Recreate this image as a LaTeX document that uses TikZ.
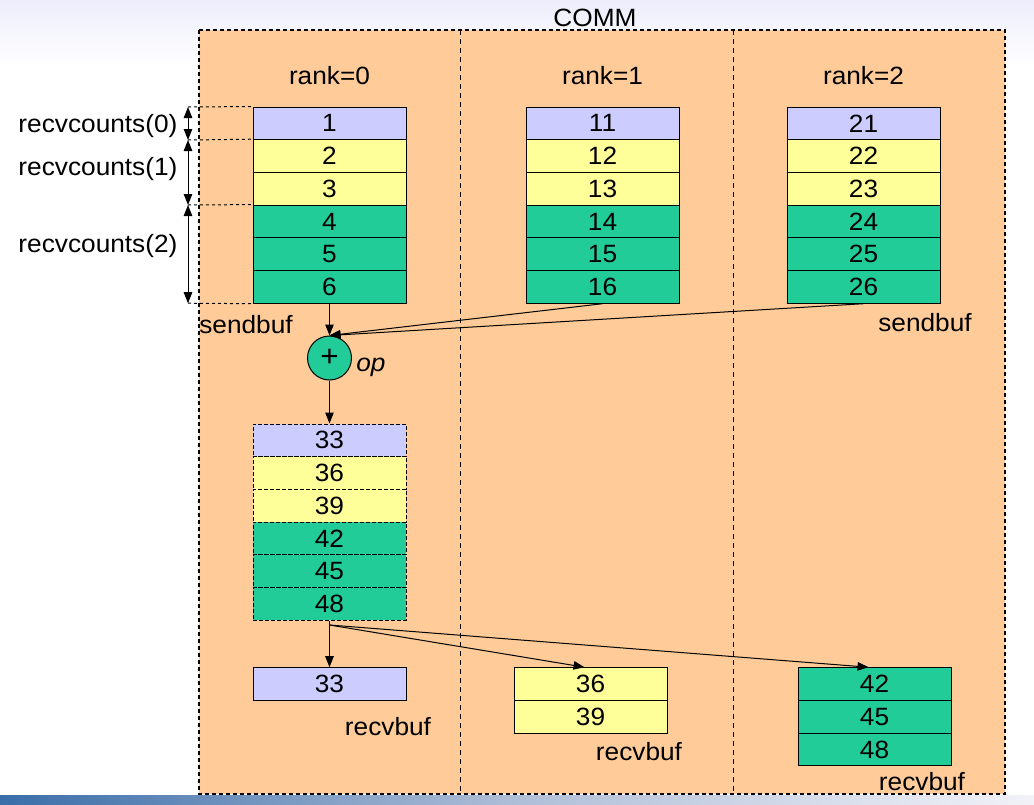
\documentclass[tikz,border=0pt]{standalone}
\usepackage{fontspec}
\setmainfont{Liberation Sans}[FakeStretch=1.05]
\usetikzlibrary{arrows.meta}
\definecolor{peach}{HTML}{FFCC99}
\definecolor{lav}{HTML}{CCCCFF}
\definecolor{yel}{HTML}{FFFF99}
\definecolor{grn}{HTML}{22CC99}
\definecolor{barl}{HTML}{3A6EA8}
\definecolor{barm}{HTML}{AFBED7}
\definecolor{barr}{HTML}{F2F2F8}
\definecolor{topfade}{HTML}{EDEDFC}

\begin{document}
\begin{tikzpicture}[x=1pt,y=-1pt,
 font=\fontsize{25}{29}\selectfont,
 >={Triangle[length=11pt,width=8.5pt]},
 cell/.style={draw,line width=1pt,inner sep=0pt,minimum width=153pt,minimum height=32.7pt},
 rescell/.style={cell,dash pattern=on 4pt off 2pt},
 commbox/.style={draw,fill=peach,line width=1.1pt,dash pattern=on 4pt off 3pt},
 divider/.style={line width=1pt,dash pattern=on 5pt off 4pt},
 link/.style={->,line width=1pt}]
 \useasboundingbox (0,0) rectangle (1034,804);
 \shade[top color=topfade,bottom color=white] (0,0) rectangle (1034,65);
 \shade[left color=barl,right color=barr,middle color=barm] (0,795) rectangle (1034,804);
 % communicator and ranks
 \draw[commbox] (199,30) rectangle (1005,794);
 \draw[divider] (460,30) -- (460,794);
 \draw[divider] (733,30) -- (733,794);
 \node (comm) at (595,18) {COMM};
 \node (rk0) at (329.5,76) {rank=0};
 \node (rk1) at (602.5,76) {rank=1};
 \node (rk2) at (863.5,76) {rank=2};
 % sendbuf rank 0
 \node[cell,fill=lav] (b01) at (329.5,123.35) {1};
 \node[cell,fill=yel] (b02) at (329.5,156.05) {2};
 \node[cell,fill=yel] (b03) at (329.5,188.75) {3};
 \node[cell,fill=grn] (b04) at (329.5,221.45) {4};
 \node[cell,fill=grn] (b05) at (329.5,254.15) {5};
 \node[cell,fill=grn] (b06) at (329.5,286.85) {6};
 % sendbuf rank 1
 \node[cell,fill=lav] (b11) at (602.5,123.35) {11};
 \node[cell,fill=yel] (b12) at (602.5,156.05) {12};
 \node[cell,fill=yel] (b13) at (602.5,188.75) {13};
 \node[cell,fill=grn] (b14) at (602.5,221.45) {14};
 \node[cell,fill=grn] (b15) at (602.5,254.15) {15};
 \node[cell,fill=grn] (b16) at (602.5,286.85) {16};
 % sendbuf rank 2
 \node[cell,fill=lav] (b21) at (863.5,123.35) {21};
 \node[cell,fill=yel] (b22) at (863.5,156.05) {22};
 \node[cell,fill=yel] (b23) at (863.5,188.75) {23};
 \node[cell,fill=grn] (b24) at (863.5,221.45) {24};
 \node[cell,fill=grn] (b25) at (863.5,254.15) {25};
 \node[cell,fill=grn] (b26) at (863.5,286.85) {26};
 \node (sb0) at (246,325) {sendbuf};
 \node (sb2) at (925,323) {sendbuf};
 % recvcounts
 \coordinate (d0) at (188,107);
 \coordinate (d1) at (188,140);
 \coordinate (d2) at (188,205);
 \coordinate (d3) at (188,303.2);
 \draw[dashed,line width=1pt] (d0) -- (b01.north west);
 \draw[dashed,line width=1pt] (d1) -- (b02.north west);
 \draw[dashed,line width=1pt] (d2) -- (b04.north west);
 \draw[dashed,line width=1pt] (d3) -- (b06.south west);
 \draw[<->,line width=1pt] (d0) -- (d1);
 \draw[<->,line width=1pt] (d1) -- (d2);
 \draw[<->,line width=1pt] (d2) -- (d3);
 \node[anchor=east] (rc0) at (181,126) {recvcounts(0)};
 \node[anchor=east] (rc1) at (181,169) {recvcounts(1)};
 \node[anchor=east] (rc2) at (181,246) {recvcounts(2)};
 % reduction
 \node[draw,circle,fill=grn,line width=1pt,minimum size=44pt,inner sep=0pt,font=\fontsize{30}{30}\selectfont] (op) at (329.5,358) {+};
 \node (oplab) at (371,367) {\itshape op};
 \draw[link] (b06.south) -- (op.north);
 \draw[link] (b16.south) -- (op.north);
 \draw[link] (b26.south) -- (op.north);
 % result
 \node[rescell,fill=lav] (res1) at (329.5,440.35) {33};
 \node[rescell,fill=yel] (res2) at (329.5,473.05) {36};
 \node[rescell,fill=yel] (res3) at (329.5,505.75) {39};
 \node[rescell,fill=grn] (res4) at (329.5,538.45) {42};
 \node[rescell,fill=grn] (res5) at (329.5,571.15) {45};
 \node[rescell,fill=grn] (res6) at (329.5,603.85) {48};
 \draw[link] (op.south) -- (res1.north);
 % scatter
 \coordinate (fork) at (329.5,625);
 \node[cell,fill=lav] (rv0a) at (329.5,684.05) {33};
 \node[cell,fill=yel] (rv1a) at (590.5,684.05) {36};
 \node[cell,fill=yel] (rv1b) at (590.5,716.75) {39};
 \node[cell,fill=grn] (rv2a) at (874.5,684.05) {42};
 \node[cell,fill=grn] (rv2b) at (874.5,716.75) {45};
 \node[cell,fill=grn] (rv2c) at (874.5,749.45) {48};
 \draw[line width=1pt] (res6.south) -- (fork);
 \draw[link] (fork) -- (rv0a.north);
 \draw[link] (fork) -- ([xshift=-6pt]rv1a.north);
 \draw[link] (fork) -- ([xshift=-6pt]rv2a.north);
 \node (rb0) at (388,727) {recvbuf};
 \node (rb1) at (639,752) {recvbuf};
 \node (rb2) at (922,782) {recvbuf};
\end{tikzpicture}
\end{document}
